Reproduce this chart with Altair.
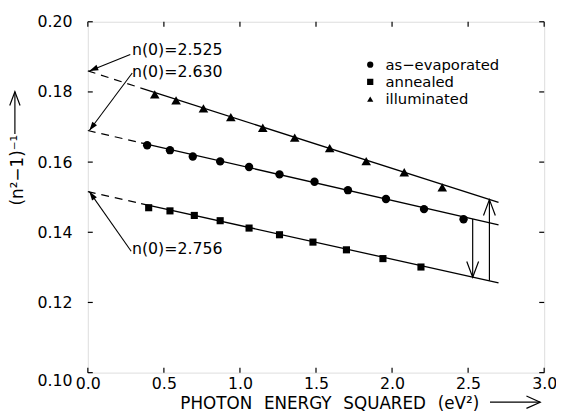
import math
import altair as alt
import pandas as pd

# ---------------- data ----------------
series_names = ["as\u2212evaporated", "annealed", "illuminated"]

evap_x = [0.39, 0.54, 0.69, 0.87, 1.06, 1.26, 1.49, 1.71, 1.96, 2.21, 2.47]
evap_y = [0.1648, 0.1634, 0.1616, 0.1602, 0.1586, 0.1565, 0.1544, 0.1520, 0.1495, 0.1466, 0.1437]
ann_x = [0.40, 0.54, 0.70, 0.87, 1.06, 1.26, 1.48, 1.70, 1.94, 2.19]
ann_y = [0.1470, 0.1461, 0.1448, 0.1433, 0.1412, 0.1393, 0.1372, 0.1350, 0.1325, 0.1301]
ill_x = [0.44, 0.58, 0.76, 0.94, 1.15, 1.36, 1.59, 1.83, 2.08, 2.33]
ill_y = [0.1793, 0.1776, 0.1753, 0.1728, 0.1698, 0.1670, 0.1640, 0.1603, 0.1571, 0.1528]

# fitted lines: start (x=0, dashed part), break (start of solid part), end
fit_x = [0.0, 0.35, 2.70]
evap_fit = [0.1690, 0.1655, 0.1421]
ann_fit = [0.1516, 0.1482, 0.1256]
ill_fit = [0.1860, 0.1811, 0.1485]

# n(0) annotations
n0_labels = ["n(0)=2.525", "n(0)=2.630", "n(0)=2.756"]
n0_text_x = [0.29, 0.29, 0.29]
n0_text_y = [0.1919, 0.1857, 0.1351]
lead_from_x = [0.279, 0.292, 0.285]
lead_from_y = [0.1907, 0.1854, 0.1346]
lead_to_x = [0.01, 0.01, 0.01]
lead_to_y = [0.1860, 0.1690, 0.1516]

# vertical arrows between lines
arrow_x = [2.53, 2.64]
arrow_from = [0.1438, 0.1262]
arrow_to = [0.1272, 0.1493]

x_ticks = [0.0, 0.5, 1.0, 1.5, 2.0, 2.5, 3.0]
y_ticks = [0.10, 0.12, 0.14, 0.16, 0.18, 0.20]

# ---------------- layout ----------------
W, H = 463, 356
FONT = "DejaVu Sans"
X_DOM = [0, 3]
Y_DOM = [0.10, 0.20]
xs = alt.Scale(domain=X_DOM, nice=False, zero=False)
ys = alt.Scale(domain=Y_DOM, nice=False, zero=False)
SP = "\u2002\u2009"

# ---------------- tables ----------------
evap_df = pd.DataFrame({"series": series_names[0], "x": evap_x, "y": evap_y})
ann_df_pts = pd.DataFrame({"series": series_names[1], "x": ann_x, "y": ann_y})
ill_df = pd.DataFrame({"series": series_names[2], "x": ill_x, "y": ill_y})

fits = {series_names[0]: evap_fit, series_names[1]: ann_fit, series_names[2]: ill_fit}
dash_df = pd.DataFrame(
    [{"series": s, "x": fit_x[i], "y": v[i]} for s, v in fits.items() for i in (0, 1)]
)
solid_df = pd.DataFrame(
    [{"series": s, "x": fit_x[i], "y": v[i]} for s, v in fits.items() for i in (1, 2)]
)

ann_df = pd.DataFrame({"label": n0_labels, "x": n0_text_x, "y": n0_text_y})
px_x = W / (X_DOM[1] - X_DOM[0])
px_y = H / (Y_DOM[1] - Y_DOM[0])
angles = []
for fx, fy, tx, ty in zip(lead_from_x, lead_from_y, lead_to_x, lead_to_y):
    dx = (tx - fx) * px_x
    dy = -(ty - fy) * px_y
    angles.append(math.degrees(math.atan2(dx, -dy)) % 360)
lead_df = pd.DataFrame({"x": lead_from_x, "y": lead_from_y, "x2": lead_to_x,
                        "y2": lead_to_y})
head_df = pd.DataFrame({"x": lead_to_x, "y": lead_to_y, "ang": angles})

arr_df = pd.DataFrame({"x": arrow_x, "y": arrow_from, "y2": arrow_to})
up_df = pd.DataFrame([{"x": x, "y": t} for x, f, t in zip(arrow_x, arrow_from, arrow_to) if t > f])
down_df = pd.DataFrame([{"x": x, "y": t} for x, f, t in zip(arrow_x, arrow_from, arrow_to) if t < f])

xt_df = pd.DataFrame({"x": x_ticks})
yt_df = pd.DataFrame({"y": y_ticks})
one = pd.DataFrame({"k": [0]})

V_UP = "M-0.375,1L0,0L0.375,1"
V_DOWN = "M-0.375,-1L0,0L0.375,-1"
V_RIGHT = "M-1,-0.45L0,0L-1,0.45"
WEDGE = "M0,0L-0.33,1L0.33,1Z"

xaxis = alt.Axis(values=x_ticks, format=".1f", labelFontSize=16, labelFont=FONT,
                 labelColor="black", domain=False, ticks=False, tickSize=0, grid=False,
                 labelPadding=3, labelFlush=False, labelOverlap=False,
                 title=f"PHOTON{SP}ENERGY{SP}SQUARED{SP}(eV\u00b2)", titleFont=FONT,
                 titleFontSize=17, titleFontWeight="normal", titleColor="black",
                 titleX=245, titleY=36, titleAlign="center", titleBaseline="alphabetic")
yaxis = alt.Axis(values=y_ticks, format=".2f", labelFontSize=16, labelFont=FONT,
                 labelColor="black", domain=False, ticks=False, tickSize=0, grid=False,
                 labelPadding=16, labelFlush=False, labelOverlap=False,
                 labelBaseline={"condition": {"test": "datum.value <= 0.1001", "value": "top"},
                                "value": "middle"},
                 title="(n\u00b2\u22121)\u207b\u00b9", titleFont=FONT, titleFontSize=17,
                 titleFontWeight="normal", titleColor="black", titleAngle=270,
                 titleX=-71, titleY=150, titleAlign="center", titleBaseline="middle")

X = alt.X("x:Q", scale=xs, axis=xaxis)
Y = alt.Y("y:Q", scale=ys, axis=yaxis)

dashed = alt.Chart(dash_df).mark_line(color="black", strokeWidth=1.2, strokeDash=[8, 6]).encode(
    x=X, y=Y, detail="series:N")
solid = alt.Chart(solid_df).mark_line(color="black", strokeWidth=1.3).encode(
    x=X, y=Y, detail="series:N")

shape_scale = alt.Scale(domain=series_names, range=["circle", "square", "triangle-up"])
legend = alt.Legend(title=None, orient="none", legendX=279, legendY=36,
                    labelFontSize=15, labelFont=FONT, labelColor="black",
                    symbolSize=40, symbolFillColor="black",
                    symbolStrokeColor="black", symbolStrokeWidth=0,
                    rowPadding=1.5, labelOffset=8, padding=0)


def pts_layer(df, size):
    return alt.Chart(df).mark_point(filled=True, color="black", opacity=1, size=size).encode(
        x=X, y=Y, shape=alt.Shape("series:N", scale=shape_scale, legend=legend))


p_evap = pts_layer(evap_df, 72)
p_ann = pts_layer(ann_df_pts, 52)
p_ill = pts_layer(ill_df, 95)

arr_shaft = alt.Chart(arr_df).mark_rule(color="black", strokeWidth=1.2).encode(
    x=X, y=Y, y2="y2:Q")
arr_up = alt.Chart(up_df).mark_point(shape=V_UP, size=1024, filled=False, color="black",
                                     strokeWidth=1.2, opacity=1).encode(x=X, y=Y)
arr_down = alt.Chart(down_df).mark_point(shape=V_DOWN, size=1024, filled=False, color="black",
                                         strokeWidth=1.2, opacity=1).encode(x=X, y=Y)

labels = alt.Chart(ann_df).mark_text(align="left", baseline="middle", fontSize=16, font=FONT,
                                     color="black").encode(x=X, y=Y, text="label:N")
leaders = alt.Chart(lead_df).mark_rule(color="black", strokeWidth=1.1).encode(
    x=X, y=Y, x2="x2:Q", y2="y2:Q")
heads = alt.Chart(head_df).mark_point(shape=WEDGE, size=324, filled=True, color="black",
                                      opacity=1).encode(
    x=X, y=Y, angle=alt.Angle("ang:Q", scale=None))

TL = 5
tick_b = alt.Chart(xt_df).mark_rule(color="black", strokeWidth=1.2).encode(
    x=X, y=alt.value(H), y2=alt.value(H - TL))
tick_t = alt.Chart(xt_df).mark_rule(color="black", strokeWidth=1.2).encode(
    x=X, y=alt.value(0), y2=alt.value(TL))
tick_l = alt.Chart(yt_df).mark_rule(color="black", strokeWidth=1.2).encode(
    y=Y, x=alt.value(0), x2=alt.value(TL))
tick_r = alt.Chart(yt_df).mark_rule(color="black", strokeWidth=1.2).encode(
    y=Y, x=alt.value(W), x2=alt.value(W - TL))

# arrows that go with the axis titles (pixel positions outside the plot area)
xarr_shaft = alt.Chart(one).mark_rule(color="black", strokeWidth=1.2).encode(
    x=alt.value(408), x2=alt.value(459), y=alt.value(H + 30))
xarr_head = alt.Chart(one).mark_point(shape=V_RIGHT, size=784, filled=False, color="black",
                                      strokeWidth=1.2, opacity=1).encode(
    x=alt.value(459), y=alt.value(H + 30))
yarr_shaft = alt.Chart(one).mark_rule(color="black", strokeWidth=1.2).encode(
    x=alt.value(-74), y=alt.value(71), y2=alt.value(114))
yarr_head = alt.Chart(one).mark_point(shape=V_UP, size=784, filled=False, color="black",
                                      strokeWidth=1.2, opacity=1).encode(
    x=alt.value(-74), y=alt.value(71))

chart = alt.layer(
    dashed, solid, p_evap, p_ann, p_ill, arr_shaft, arr_up, arr_down, labels, leaders, heads,
    tick_b, tick_t, tick_l, tick_r, xarr_shaft, xarr_head, yarr_shaft, yarr_head,
).properties(
    width=W, height=H,
    autosize=alt.AutoSizeParams(type="none"),
    padding={"left": 81, "top": 11, "right": 12, "bottom": 38},
).configure_view(
    stroke="black", strokeWidth=1.6
).configure(font=FONT, background="white")

chart.save("out.html", embed_options={"renderer": "svg", "actions": False})
